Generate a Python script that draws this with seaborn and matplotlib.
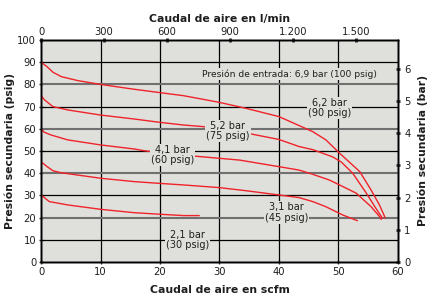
import numpy as np
import pandas as pd
import matplotlib
matplotlib.use("Agg")
import matplotlib.pyplot as plt
import seaborn as sns

# Curvas de caudal (scfm) vs presión secundaria (psig) por presión de ajuste
flow_90 = [0, 1, 2, 3.4, 6.2, 10, 15.7, 20, 24, 30, 34.5, 40, 45.7, 47.9, 50.2, 53.6, 55.5, 56.9, 57.9]
psig_90 = [90, 88, 85.5, 83.5, 81.7, 80, 77.8, 76.3, 74.9, 71.9, 69.2, 65.5, 58.7, 55, 49, 40.7, 32.4, 25.7, 19.7]

flow_75 = [0, 0.6, 2, 4.5, 10, 15.7, 20, 24, 27.2, 30, 34.7, 40, 43.4, 45.7, 49, 50.5, 52.4, 54.7, 56.3, 57.4]
psig_75 = [75, 73, 70, 68.5, 66.2, 64.4, 62.9, 61.7, 61, 59.8, 58, 55.2, 52, 50.6, 47.4, 45, 40, 31, 24.2, 19.7]

flow_60 = [0, 0.5, 1.7, 4.5, 10.1, 15.7, 17.4, 21, 25.8, 30, 33.4, 40.1, 43.4, 45.7, 48.5, 50.2, 53, 55.5, 56.9, 57.2]
psig_60 = [60, 58.5, 57.2, 55, 52.7, 50.9, 50.1, 49, 47.7, 46.7, 45.9, 42.9, 41.4, 39.5, 36.9, 34.7, 31, 24.9, 20.5, 19.2]

flow_45 = [0, 1, 2, 3.4, 10.1, 15.7, 20, 24, 30, 34.5, 40, 43.4, 45.7, 47.9, 50.7, 53.2]
psig_45 = [45.2, 43, 41.1, 40.2, 37.7, 36.2, 35.4, 34.7, 33.5, 32.1, 30.2, 29, 27.2, 24.9, 21.2, 18.6]

flow_30 = [0, 1.4, 4.5, 10.1, 15.7, 20, 24, 26.6]
psig_30 = [30.2, 27.2, 25.7, 23.7, 22.2, 21.5, 20.9, 20.9]

curve_labels = ["6,2 bar\n(90 psig)", "5,2 bar\n(75 psig)", "4,1 bar\n(60 psig)",
                "3,1 bar\n(45 psig)", "2,1 bar\n(30 psig)"]
label_x = [48.5, 31.4, 22.1, 41.3, 24.6]
label_y = [69.4, 59.0, 48.2, 22.4, 9.9]

lpm_ticks = [0, 300, 600, 900, 1200, 1500]
lpm_labels = ["0", "300", "600", "900", "1.200", "1.500"]
bar_ticks = [0, 1, 2, 3, 4, 5, 6]

SCFM_TO_LPM = 28.317
PSI_PER_BAR = 14.5038

FACE = "#dfe0db"
RED = "#f0222a"
INK = "#1e1e1e"

frames = []
for name, fx, py in [("90", flow_90, psig_90), ("75", flow_75, psig_75),
                     ("60", flow_60, psig_60), ("45", flow_45, psig_45),
                     ("30", flow_30, psig_30)]:
    frames.append(pd.DataFrame({"flow": fx, "psig": py, "inlet": name}))
df = pd.concat(frames, ignore_index=True)

sns.set_style("white")
plt.rcParams["font.family"] = ["DejaVu Sans"]
plt.rcParams["text.color"] = INK
plt.rcParams["axes.labelcolor"] = INK
plt.rcParams["xtick.labelcolor"] = INK
plt.rcParams["ytick.labelcolor"] = INK

fig = plt.figure(figsize=(4.32, 3.02), dpi=100)
ax = fig.add_axes([0.095, 0.1325, 0.826, 0.735])
ax.set_facecolor(FACE)

sns.lineplot(data=df, x="flow", y="psig", units="inlet", estimator=None,
             sort=False, color=RED, lw=1.0, ax=ax, zorder=3)

ax.set_xlim(0, 60)
ax.set_ylim(0, 100)
ax.set_xticks(range(0, 61, 10))
ax.set_yticks(range(0, 101, 10))

# rejilla: verticales negras, horizontales alternando negro / gris
for v in range(10, 60, 10):
    ax.axvline(v, color="black", lw=0.9, zorder=1)
for h in range(10, 100, 10):
    if h % 20 == 0:
        ax.axhline(h, color="#707070", lw=1.5, zorder=1)
    else:
        ax.axhline(h, color="black", lw=0.9, zorder=1)

ax.tick_params(axis="both", labelsize=7.2, length=3, width=1, direction="inout", pad=2)
ax.set_xlabel("Caudal de aire en scfm", fontsize=7.8, fontweight="bold", labelpad=6)
ax.set_ylabel("Presión secundaria (psig)", fontsize=7.8, fontweight="bold", labelpad=2)
for sp in ax.spines.values():
    sp.set_color("black")
    sp.set_linewidth(1)

# eje superior en l/min
top = ax.twiny()
top.set_xlim(0, 60)
top.set_xticks([v / SCFM_TO_LPM for v in lpm_ticks])
top.set_xticklabels(lpm_labels)
top.tick_params(axis="x", labelsize=7.2, length=3, width=2, direction="inout", pad=1)
top.set_xlabel("Caudal de aire en l/min", fontsize=7.8, fontweight="bold", labelpad=3)

# eje derecho en bar
right = ax.twinx()
right.set_ylim(0, 100 / PSI_PER_BAR)
right.set_yticks(bar_ticks)
right.tick_params(axis="y", labelsize=7.2, length=3, width=2, direction="inout", pad=3)
right.set_ylabel("Presión secundaria (bar)", fontsize=7.8, fontweight="bold", labelpad=5)
for a in (top, right):
    for sp in a.spines.values():
        sp.set_color("black")
        sp.set_linewidth(1)

box = dict(boxstyle="square,pad=0.1", fc=FACE, ec="none")
for txt, lx, ly in zip(curve_labels, label_x, label_y):
    ax.text(lx, ly, txt, ha="center", va="center", fontsize=7,
            linespacing=1.1, bbox=box, zorder=4)
ax.text(41.8, 84.7, "Presión de entrada: 6,9 bar (100 psig)", ha="center",
        va="center", fontsize=6.6, bbox=box, zorder=4)

fig.savefig("out.png", dpi=100)
